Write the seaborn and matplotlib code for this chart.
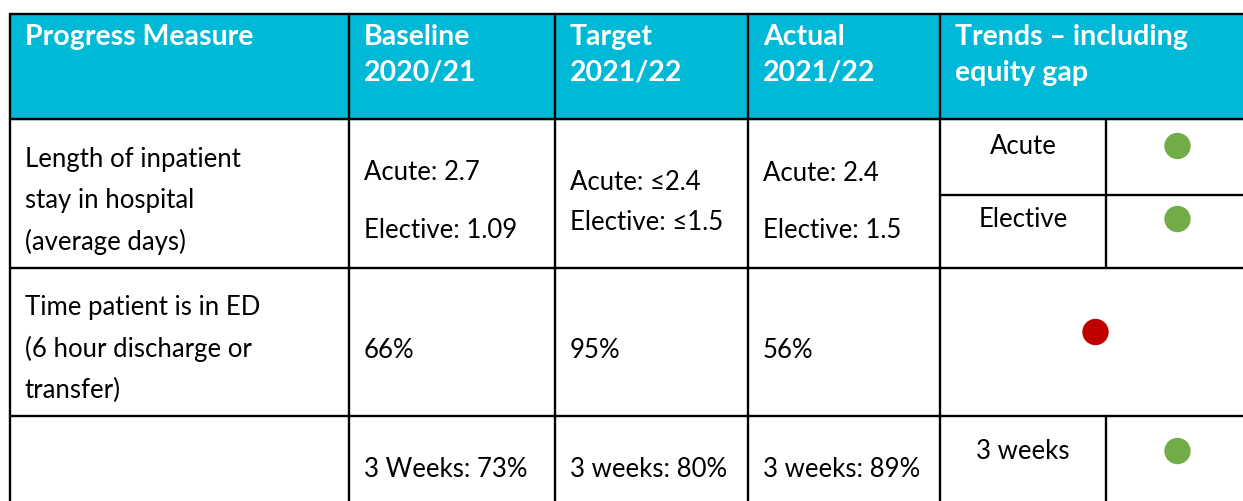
import matplotlib.pyplot as plt
import seaborn as sns
import pandas as pd

# table content
headers = [["Progress Measure"], ["Baseline", "2020/21"], ["Target", "2021/22"],
           ["Actual", "2021/22"], ["Trends \u2013 including", "equity gap"]]
measures = [["Length of inpatient", "stay in hospital", "(average days)"],
            ["Time patient is in ED", "(6 hour discharge or", "transfer)"],
            [""]]
baseline = [["Acute: 2.7", "Elective: 1.09"], ["66%"], ["3 Weeks: 73%"]]
target = [["Acute: \u22642.4", "Elective: \u22641.5"], ["95%"], ["3 weeks: 80%"]]
actual = [["Acute: 2.4", "Elective: 1.5"], ["56%"], ["3 weeks: 89%"]]
trend_labels = ["Acute", "Elective", "", "3 weeks"]
trend_status = ["green", "green", "red", "green"]
status_colors = {"green": "#70AD47", "red": "#C00000"}

# layout (pixels)
W, H = 1243, 502
col_x = [10, 349, 555, 748, 940, 1243]
sub_x = 1106
row_y = [15, 120, 269, 417, 502]
sub_y = 196
header_fill = "#00B9D6"

sns.set_theme(style="white")
plt.rcParams['font.family'] = ['Lato', 'DejaVu Sans']

fig = plt.figure(figsize=(W / 100, H / 100), dpi=100)
ax = fig.add_axes([0, 0, 1, 1])
ax.set_xlim(0, W)
ax.set_ylim(H, 0)
ax.axis('off')

ax.add_patch(plt.Rectangle((col_x[0], row_y[0]), W - col_x[0] + 5, row_y[1] - row_y[0],
                           color=header_fill, zorder=0))

lw = 1.7
for y in row_y[:-1]:
    ax.plot([col_x[0], W + 5], [y, y], color="black", lw=lw)
for x in col_x[:-1]:
    ax.plot([x, x], [row_y[0], H + 5], color="black", lw=lw)
# trend sub grid
ax.plot([sub_x, sub_x], [row_y[1], row_y[2]], color="black", lw=lw)
ax.plot([sub_x, sub_x], [row_y[3], H + 5], color="black", lw=lw)
ax.plot([col_x[4], W + 5], [sub_y, sub_y], color="black", lw=lw)

fs = 18.5
hfs = 20.5
pad = 15
# headers
for i, lines in enumerate(headers):
    for j, t in enumerate(lines):
        ax.text(col_x[i] + pad, 37 + j * 36, t, color="white", fontsize=hfs,
                fontweight="bold", va="center", ha="left")

# measures
meas_y = [160, 308, 460]
for i, lines in enumerate(measures):
    for j, t in enumerate(lines):
        ax.text(col_x[0] + pad, meas_y[i] + j * 41, t, fontsize=fs, va="center",
                color="black")

row1_y = {1: [173, 231], 2: [183, 223], 3: [174, 231]}
single_y = [351, 470]
for c, vals in zip([1, 2, 3], [baseline, target, actual]):
    for j, t in enumerate(vals[0]):
        ax.text(col_x[c] + pad, row1_y[c][j], t, fontsize=fs, va="center", color="black")
    for r in (1, 2):
        ax.text(col_x[c] + pad, single_y[r - 1], vals[r][0], fontsize=fs,
                va="center", color="black")

# trends column
trend_y = [147, 220, 333, 452]
dot_x = [(sub_x + W) / 2 + 3, (sub_x + W) / 2 + 3, (col_x[4] + W) / 2 + 4, (sub_x + W) / 2 + 3]
for lab, y in zip(trend_labels, trend_y):
    if lab:
        ax.text((col_x[4] + sub_x) / 2, y, lab, fontsize=fs, va="center",
                ha="center", color="black")
dots = pd.DataFrame({"x": dot_x, "y": trend_y, "status": trend_status})
sns.scatterplot(data=dots, x="x", y="y", hue="status", palette=status_colors,
                s=360, linewidth=0, legend=False, ax=ax, zorder=5)
ax.set_xlim(0, W)
ax.set_ylim(H, 0)
ax.axis('off')

fig.savefig("out.png", dpi=100)
